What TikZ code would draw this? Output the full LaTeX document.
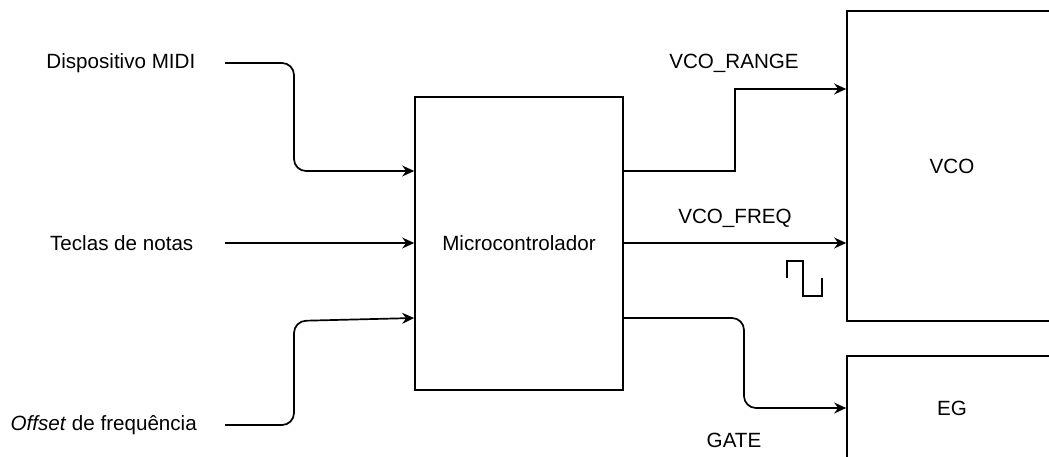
\documentclass[tikz,border=0pt]{standalone}
\usepackage{fontspec}
\setmainfont{Liberation Sans}
\usetikzlibrary{arrows.meta,positioning,calc}
\tikzset{
  blk/.style={draw=black, line width=1.7pt, rectangle, inner sep=0pt, font=\fontsize{20.6}{24}\selectfont},
  lbl/.style={inner sep=0pt, font=\fontsize{20.6}{24}\selectfont, text=black},
  wire/.style={draw=black, line width=1.7pt},
  arr/.style={wire, -{Stealth[length=12pt, width=11pt, inset=4pt]}},
  wave/.style={draw=black, line width=1.3pt}
}
\begin{document}
\begin{tikzpicture}[x=1pt,y=1pt]
\useasboundingbox (0,0) rectangle (1049,456);
\clip (0,0) rectangle (1049,456);
\fill[white] (0,0) rectangle (1049,456);

% blocks
\node[blk, minimum width=208pt, minimum height=293pt] (mc) at (519,212.5) {Microcontrolador};
\node[blk, minimum width=210pt, minimum height=310pt] (vco) at (952,290) {VCO};
\node[blk, minimum width=210pt, minimum height=104pt] (eg) at (952,48) {EG};

% input labels
\node[lbl, anchor=east] (midi) at (195.5,393) {Dispositivo MIDI};
\node[lbl, anchor=east] (teclas) at (193.5,213) {Teclas de notas};
\node[lbl, anchor=east] (offset) at (197,31) {\textit{Offset} de frequência};

\coordinate (m0) at (225,393);
\coordinate (t0) at (225,213);
\coordinate (o0) at (225,31);

% output labels
\node[lbl] (lrange) at (734,393) {VCO\_RANGE};
\node[lbl] (lfreq) at (735,238) {VCO\_FREQ};
\node[lbl] (lgate) at (734,16) {GATE};

% input connectors
\draw[arr, rounded corners=12pt] (m0) -- (294,393) -- (294,285) -- ([yshift=72.5pt]mc.west);
\draw[arr] (t0) -- (t0 -| mc.west);
\draw[arr, rounded corners=12pt] (o0) -- (294,31) -- (294,135) -- ([yshift=-74.5pt]mc.west);

% output connectors
\draw[arr] ([yshift=72.5pt]mc.east) -- (735,285) -- (735,367) -- ([yshift=77pt]vco.west);
\draw[arr] (mc.east |- 0,213) -- ([yshift=-77pt]vco.west);
\draw[arr, rounded corners=12pt] ([yshift=-74.5pt]mc.east) -- (744,138) -- (744,48) -- (eg.west);

% square wave symbol
\draw[wave] (787,178) -- (787,195) -- (803,195) -- (803,160) -- (822,160) -- (822,178);
\end{tikzpicture}
\end{document}
